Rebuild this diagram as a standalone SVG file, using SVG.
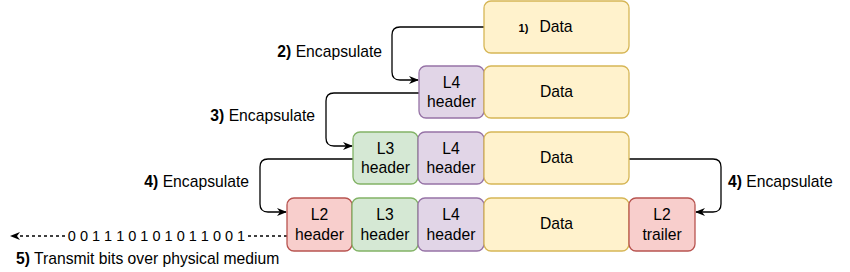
<svg xmlns="http://www.w3.org/2000/svg" width="850" height="272" viewBox="0 0 850 272">
<defs>
<style>
text{font-family:"Liberation Sans",Arial,sans-serif;font-size:15.7px;fill:#000}
.b{font-weight:bold}
.data rect{fill:#fff2cc;stroke:#d6b656;stroke-width:1.3}
.l4 rect{fill:#e1d5e7;stroke:#9673a6;stroke-width:1.3}
.l3 rect{fill:#d5e8d4;stroke:#82b366;stroke-width:1.3}
.l2 rect{fill:#f8cecc;stroke:#b85450;stroke-width:1.3}
.c{text-anchor:middle}
.conn path{fill:none;stroke:#000;stroke-width:1.3}
.dash{stroke-dasharray:3 3}
</style>
<marker id="ah" viewBox="0 0 10 8" refX="9" refY="4" markerWidth="10" markerHeight="8" markerUnits="userSpaceOnUse" orient="auto">
<path d="M0,0 L10,4 L0,8 L3,4 z" fill="#000"/>
</marker>
</defs>
<rect width="850" height="272" fill="#fff"/>

<g id="connectors" class="conn">
<path d="M484,27 H400 Q392,27 392,35 V72 Q392,80 400,80 H418" marker-end="url(#ah)"/>
<path d="M419,93 H334 Q326,93 326,101 V138 Q326,146 334,146 H352" marker-end="url(#ah)"/>
<path d="M353,159 H268 Q260,159 260,167 V204 Q260,212 268,212 H286" marker-end="url(#ah)"/>
<path d="M629,159 H713 Q721,159 721,167 V204 Q721,212 713,212 H696" marker-end="url(#ah)"/>
<path class="dash" d="M287,236 H11" marker-end="url(#ah)"/>
</g>

<g id="row1-data" class="data"><rect x="484" y="1" width="145" height="52" rx="7"/><text x="523.5" y="32" class="b c" style="font-size:11px">1)</text><text x="556" y="32" class="c">Data</text></g>

<g id="row2-l4" class="l4"><rect x="419" y="66" width="65" height="52" rx="7"/><text x="451.5" y="88" class="c">L4</text><text x="451.5" y="107" class="c">header</text></g>
<g id="row2-data" class="data"><rect x="484" y="66" width="145" height="52" rx="7"/><text x="556.5" y="97" class="c">Data</text></g>

<g id="row3-l3" class="l3"><rect x="353" y="132" width="65" height="52" rx="7"/><text x="385.5" y="154" class="c">L3</text><text x="385.5" y="173" class="c">header</text></g>
<g id="row3-l4" class="l4"><rect x="418" y="132" width="66" height="52" rx="7"/><text x="451" y="154" class="c">L4</text><text x="451" y="173" class="c">header</text></g>
<g id="row3-data" class="data"><rect x="484" y="132" width="145" height="52" rx="7"/><text x="556.5" y="163" class="c">Data</text></g>

<g id="row4-l2h" class="l2"><rect x="287" y="198" width="65" height="53" rx="7"/><text x="319.5" y="220" class="c">L2</text><text x="319.5" y="240" class="c">header</text></g>
<g id="row4-l3" class="l3"><rect x="352" y="198" width="66" height="53" rx="7"/><text x="385" y="220" class="c">L3</text><text x="385" y="240" class="c">header</text></g>
<g id="row4-l4" class="l4"><rect x="418" y="198" width="66" height="53" rx="7"/><text x="451" y="220" class="c">L4</text><text x="451" y="240" class="c">header</text></g>
<g id="row4-data" class="data"><rect x="484" y="198" width="145" height="53" rx="7"/><text x="556.5" y="229" class="c">Data</text></g>
<g id="row4-l2t" class="l2"><rect x="629" y="198" width="66" height="53" rx="7"/><text x="662" y="220" class="c">L2</text><text x="662" y="240" class="c">trailer</text></g>

<g id="labels">
<text x="382" y="57" text-anchor="end"><tspan class="b">2)</tspan> Encapsulate</text>
<text x="315" y="121" text-anchor="end"><tspan class="b">3)</tspan> Encapsulate</text>
<text x="249" y="187" text-anchor="end"><tspan class="b">4)</tspan> Encapsulate</text>
<text x="728" y="187"><tspan class="b">4)</tspan> Encapsulate</text>
<rect x="66" y="227" width="181" height="18" fill="#fff"/>
<text x="156.5" y="241" class="c" style="font-size:14.5px">0 0 1 1 1 0 1 0 1 0 1 1 0 0 1</text>
<text x="16" y="264"><tspan class="b">5)</tspan> Transmit bits over physical medium</text>
</g>
</svg>
